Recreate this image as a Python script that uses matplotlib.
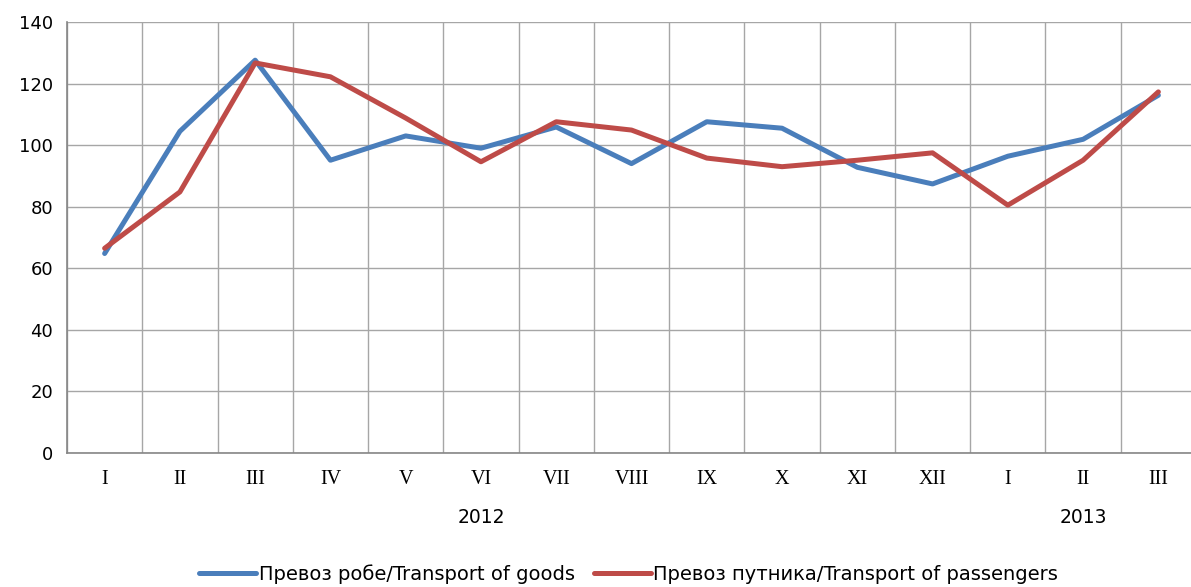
import numpy as np
import matplotlib
matplotlib.use("Agg")
import matplotlib.pyplot as plt

months = ["I", "II", "III", "IV", "V", "VI", "VII", "VIII", "IX", "X", "XI", "XII",
          "I", "II", "III"]
years = ["2012", "2013"]
year_label_pos = [5, 13]

goods = [64.8, 104.5, 127.6, 95.1, 103.0, 99.0, 105.9, 94.0, 107.6, 105.5,
         92.8, 87.4, 96.4, 101.9, 116.2]
passengers = [66.5, 84.8, 126.7, 122.2, 108.8, 94.6, 107.6, 104.9, 95.8, 93.0,
              95.1, 97.5, 80.5, 95.1, 117.3]

goods_label = "Превоз робе/Transport of goods"
pass_label = "Превоз путника/Transport of passengers"

fig = plt.figure(figsize=(11.91, 5.87), dpi=100)
ax = fig.add_axes([67 / 1191, 1 - 453 / 587, 1129 / 1191, 431 / 587])

x = np.arange(len(months))
ax.plot(x, goods, color="#4A7EBB", lw=3.6, label=goods_label, solid_capstyle="round")
ax.plot(x, passengers, color="#BE4B48", lw=3.6, label=pass_label, solid_capstyle="round")

ax.set_xlim(-0.5, len(months) - 0.5)
ax.set_ylim(0, 140)
ax.set_yticks(range(0, 141, 20))
ax.set_xticks(x)
ax.set_xticklabels(months, family="Liberation Serif", fontsize=14.5)
ax.set_xticks(np.arange(-0.5, len(months) + 0.5, 1), minor=True)
ax.tick_params(axis="x", which="major", length=0, pad=12)
ax.tick_params(axis="x", which="minor", length=0)
ax.tick_params(axis="y", length=0, labelsize=13, pad=10)

ax.grid(True, axis="y", color="#A6A6A6", lw=1.0)
ax.grid(True, axis="x", which="minor", color="#A6A6A6", lw=1.0)
ax.set_axisbelow(True)
for s in ["top", "right"]:
    ax.spines[s].set_visible(False)
for s in ["left", "bottom"]:
    ax.spines[s].set_color("#868686")
    ax.spines[s].set_linewidth(1.2)

for pos, yr in zip(year_label_pos, years):
    ax.text(pos, -21, yr, ha="center", va="center", fontsize=13.5,
            family="DejaVu Sans", transform=ax.transData, clip_on=False)

fig.legend(loc="center", bbox_to_anchor=(0.528, 1 - 574 / 587), ncol=2,
           frameon=False, fontsize=14, handlelength=2.9, handletextpad=0.15,
           columnspacing=1.0)

fig.savefig("out.png", dpi=100)
